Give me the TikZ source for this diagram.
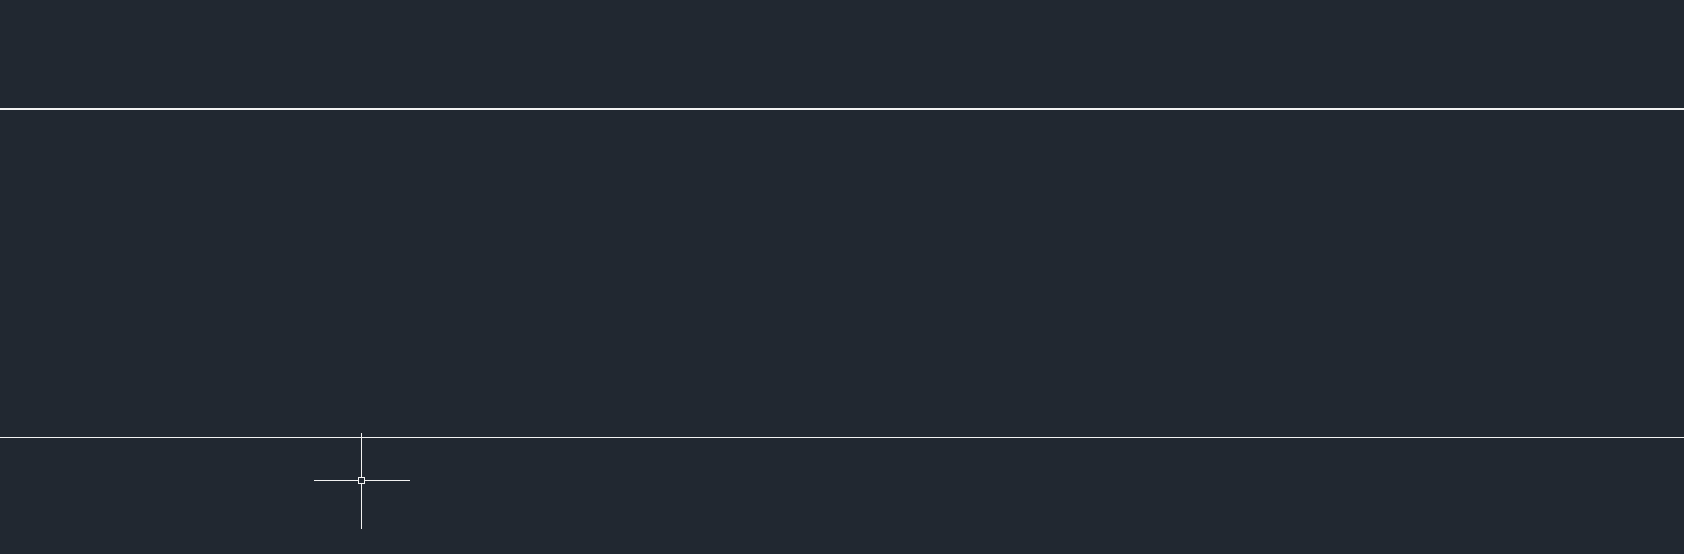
\documentclass[tikz,border=0pt]{standalone}
\usepackage{tikz}
\definecolor{canvas}{HTML}{212831}
\definecolor{lineclr}{HTML}{F2F2F2}
\tikzset{
  edgeline/.style={draw=lineclr, line width=0.55pt},
  cursorline/.style={draw=lineclr, line width=0.6pt}
}

\begin{document}
\begin{tikzpicture}[x=0.5pt,y=-0.5pt]
		%% background, 1684 x 554 px
		\fill[canvas] (0,0) rectangle (1684,554);
		\useasboundingbox (0,0) rectangle (1684,554);

		% two long lines
		\draw[edgeline] (0,109) -- (1684,109);
		\draw[edgeline] (0,437.3) -- (1684,437.3);

		% cursor
		\coordinate (cur) at (361.3,480.3);
		\draw[cursorline] (cur) ++(-47.3,0) -- ++(44,0);
		\draw[cursorline] (cur) ++(3.3,0) -- ++(45.4,0);
		\draw[cursorline] (cur) ++(0,-47.3) -- ++(0,44);
		\draw[cursorline] (cur) ++(0,3.3) -- ++(0,45);
		\draw[cursorline] (cur) ++(-3.2,-3.2) rectangle ++(6.4,6.4);
	\end{tikzpicture}
\end{document}
